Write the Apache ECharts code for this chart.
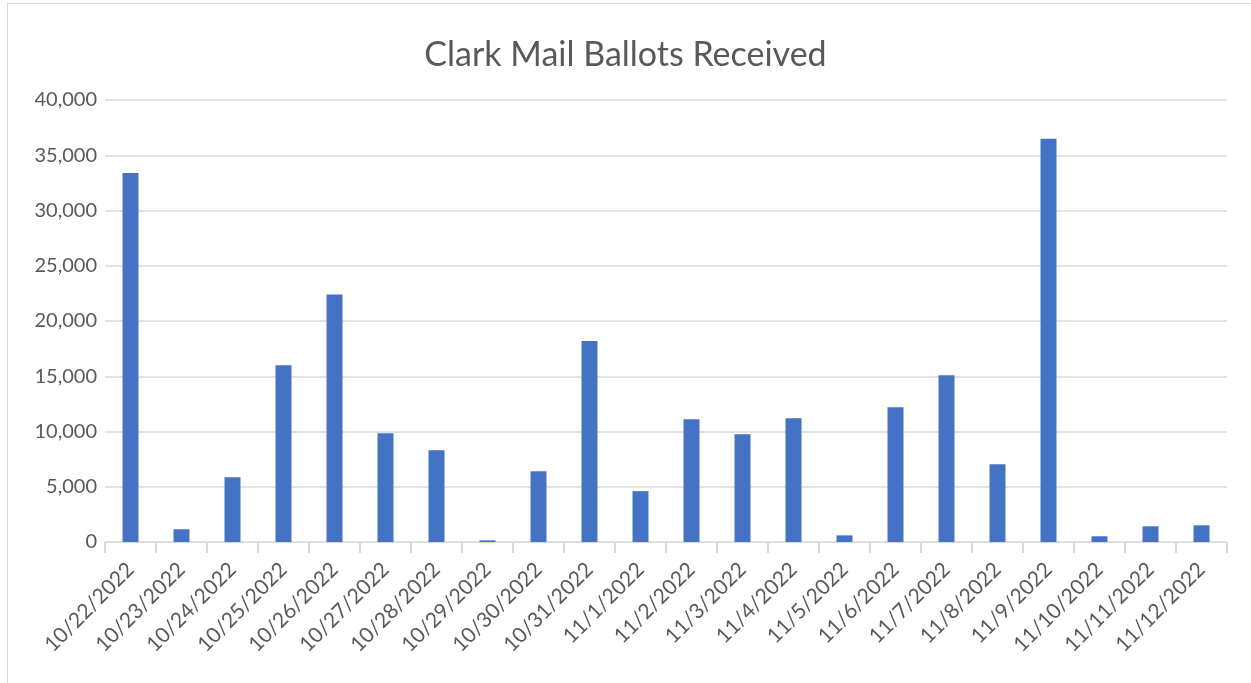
<!DOCTYPE html>
<html>
<head>
<meta charset="utf-8">
<script src="https://cdn.jsdelivr.net/npm/echarts@6/dist/echarts.min.js"></script>
<style>
  html, body { margin: 0; padding: 0; background: #fff; }
  #frame { position: absolute; left: 7px; top: 3px; width: 1260px; height: 700px;
           border: 1px solid #d9d9d9; box-sizing: border-box; }
  #chart { position: absolute; left: 0; top: 0; width: 1251px; height: 683px; }
</style>
</head>
<body>
<div id="frame"></div>
<div id="chart"></div>
<script>
// Daily mail ballots received
const dates = [
  '10/22/2022', '10/23/2022', '10/24/2022', '10/25/2022', '10/26/2022', '10/27/2022',
  '10/28/2022', '10/29/2022', '10/30/2022', '10/31/2022', '11/1/2022', '11/2/2022',
  '11/3/2022', '11/4/2022', '11/5/2022', '11/6/2022', '11/7/2022', '11/8/2022',
  '11/9/2022', '11/10/2022', '11/11/2022', '11/12/2022'
];
const ballots = [
  33400, 1150, 5860, 16000, 22400, 9850,
  8300, 150, 6400, 18200, 4600, 11100,
  9750, 11200, 600, 12200, 15100, 7040,
  36500, 520, 1420, 1510
];
const yTicks = { min: 0, max: 40000, interval: 5000 };

const TEXT = '#595959';
const LINE = '#d9d9d9';
const FONT = 'Lato, "Open Sans", sans-serif';

const chart = echarts.init(document.getElementById('chart'), null, { renderer: 'canvas' });

chart.setOption({
  animation: false,
  title: {
    text: 'Clark Mail Ballots Received',
    left: 'center',
    top: 33,
    textStyle: { color: TEXT, fontFamily: FONT, fontSize: 34, fontWeight: 'normal' },
  },
  grid: { left: 105, right: 24, top: 100, bottom: 141 },
  xAxis: {
    type: 'category',
    data: dates,
    axisLine: { lineStyle: { color: LINE, width: 1 } },
    axisTick: { show: true, length: 11, lineStyle: { color: LINE, width: 2 } },
    axisLabel: {
      rotate: 45,
      interval: 0,
      margin: 24,
      color: TEXT,
      fontFamily: FONT,
      fontSize: 21,
    },
  },
  yAxis: {
    type: 'value',
    min: yTicks.min,
    max: yTicks.max,
    interval: yTicks.interval,
    axisLine: { show: false },
    axisTick: { show: false },
    splitLine: { lineStyle: { color: LINE, width: 1.5 } },
    axisLabel: {
      color: TEXT,
      fontFamily: FONT,
      fontSize: 20,
      margin: 8,
      formatter: v => v.toLocaleString('en-US'),
    },
  },
  series: [{
    type: 'bar',
    data: ballots,
    barWidth: 16,
    itemStyle: { color: '#4472C4' },
  }],
});
</script>
</body>
</html>
